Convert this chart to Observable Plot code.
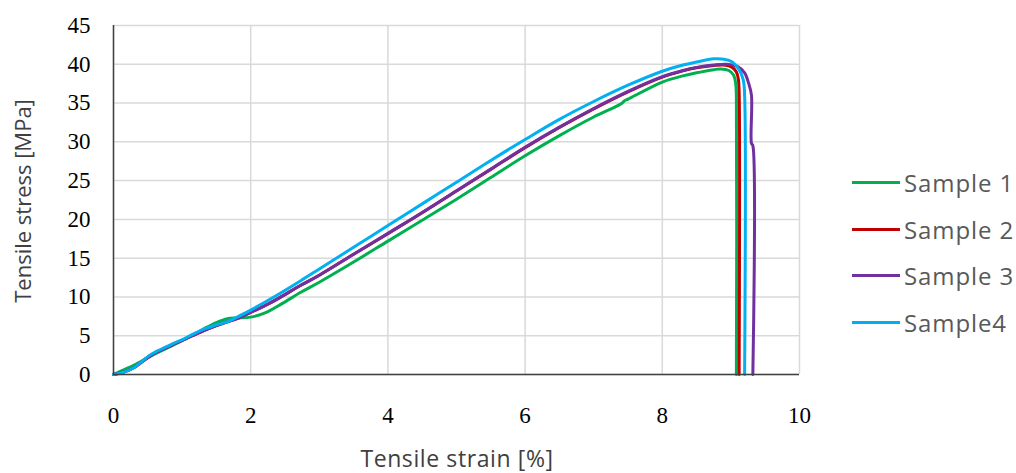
<!DOCTYPE html>
<html>
<head>
<meta charset="utf-8">
<script src="https://cdn.jsdelivr.net/npm/d3@7"></script>
<script src="https://cdn.jsdelivr.net/npm/@observablehq/plot@0.6"></script>
<style>
  html, body { margin: 0; padding: 0; background: #fff; }
  #wrap { position: relative; width: 1016px; height: 473px; overflow: hidden; }
  #wrap svg text { font-family: "Liberation Serif", "Times New Roman", serif !important; font-size: 23px !important; fill: #000; }
  #legend { position: absolute; left: 0; top: 0; font-family: "Open Sans", sans-serif; font-size: 24px; letter-spacing: 0.9px; color: #595959; }
  .item { position: absolute; left: 852px; height: 30px; display: flex; align-items: center; white-space: nowrap; }
  .sw { width: 48px; height: 3px; margin-right: 4px; }
  .title { position: absolute; font-family: "Open Sans", sans-serif; color: #404040; white-space: nowrap; line-height: 1; }
  #xtitle { left: 457px; top: 458px; font-size: 23px; letter-spacing: 0.6px; transform: translate(-50%, -50%); }
  #ytitle { left: 22px; top: 201px; font-size: 22px; transform: translate(-50%, -50%) rotate(-90deg); }
</style>
</head>
<body>
<div id="wrap">
  <div id="legend"></div>
  <div class="title" id="xtitle">Tensile strain [%]</div>
  <div class="title" id="ytitle">Tensile stress [MPa]</div>
</div>
<script>
const samples = ["Sample 1", "Sample 2", "Sample 3", "Sample4"];
const colors = ["#00b050", "#c00000", "#7030a0", "#00b0f0"];
const xTicks = [0, 2, 4, 6, 8, 10];
const yTicks = [0, 5, 10, 15, 20, 25, 30, 35, 40, 45];

const s1Strain = [0, 0.1, 0.3, 0.55, 0.8, 1.05, 1.3, 1.5, 1.66, 1.8, 2.0, 2.2, 2.45, 2.73, 3.0, 3.5, 4.0, 4.5, 5.0, 5.5, 6.0, 6.5, 7.0, 7.4, 7.45, 7.5, 8.0, 8.3, 8.5, 8.75, 8.85, 8.97, 9.04, 9.07, 9.08, 9.08];
const s1Stress = [0, 0.4, 1.2, 2.4, 3.5, 4.6, 5.8, 6.7, 7.2, 7.3, 7.4, 7.9, 9.1, 10.6, 11.9, 14.5, 17.2, 19.9, 22.6, 25.4, 28.2, 30.8, 33.2, 34.9, 35.3, 35.5, 37.7, 38.5, 38.9, 39.3, 39.4, 39.2, 38.6, 37.5, 35.5, 0];

const s2Strain = [0, 0.15, 0.3, 0.55, 0.8, 1.05, 1.3, 1.5, 1.66, 1.8, 2.0, 2.3, 2.73, 3.0, 3.5, 4.0, 4.5, 5.0, 5.5, 6.0, 6.5, 7.0, 7.5, 8.0, 8.3, 8.5, 8.75, 8.9, 9.02, 9.08, 9.11, 9.12, 9.12];
const s2Stress = [0, 0.3, 0.9, 2.5, 3.6, 4.6, 5.6, 6.3, 6.8, 7.2, 8.0, 9.3, 11.5, 12.8, 15.5, 18.15, 20.85, 23.65, 26.45, 29.25, 31.85, 34.25, 36.45, 38.35, 39.15, 39.55, 39.85, 39.9, 39.6, 39.0, 38.0, 36.5, 0];

const s3Strain = [0, 0.15, 0.3, 0.55, 0.8, 1.05, 1.3, 1.5, 1.66, 1.8, 2.0, 2.3, 2.73, 3.0, 3.5, 4.0, 4.5, 5.0, 5.5, 6.0, 6.5, 7.0, 7.5, 8.0, 8.3, 8.5, 8.75, 8.94, 9.1, 9.2, 9.26, 9.3, 9.3, 9.32, 9.32];
const s3Stress = [0, 0.3, 0.9, 2.5, 3.6, 4.6, 5.6, 6.3, 6.8, 7.2, 8.0, 9.3, 11.5, 12.8, 15.5, 18.2, 20.9, 23.7, 26.5, 29.3, 31.9, 34.3, 36.5, 38.4, 39.2, 39.6, 39.9, 40.0, 39.7, 38.9, 37.5, 36.0, 29.8, 29.5, 0];

const s4Strain = [0, 0.15, 0.3, 0.55, 0.8, 1.05, 1.3, 1.5, 1.66, 1.8, 2.0, 2.3, 2.73, 3.0, 3.5, 4.0, 4.5, 5.0, 5.5, 6.0, 6.5, 7.0, 7.5, 8.0, 8.3, 8.5, 8.75, 8.9, 9.02, 9.12, 9.18, 9.2, 9.2];
const s4Stress = [0, 0.3, 0.9, 2.6, 3.7, 4.7, 5.8, 6.4, 6.8, 7.4, 8.3, 9.8, 12.1, 13.6, 16.4, 19.2, 22.0, 24.8, 27.6, 30.3, 32.9, 35.2, 37.3, 39.1, 39.9, 40.3, 40.7, 40.65, 40.3, 39.3, 38.0, 36.0, 0];

const seriesStrain = [s1Strain, s2Strain, s3Strain, s4Strain];
const seriesStress = [s1Stress, s2Stress, s3Stress, s4Stress];

const data = samples.flatMap((name, i) =>
  seriesStrain[i].map((x, j) => ({ sample: name, strain: x, stress: seriesStress[i][j] }))
);

const chart = Plot.plot({
  width: 1016,
  height: 473,
  marginLeft: 113,
  marginRight: 217,
  marginTop: 25,
  marginBottom: 99,
  style: { background: "#fff", overflow: "visible" },
  x: { domain: [0, 10], ticks: xTicks, label: null, tickSize: 0, tickPadding: 32 },
  y: { domain: [0, 45], ticks: yTicks, label: null, tickSize: 0, tickPadding: 23 },
  color: { domain: samples, range: colors },
  marks: [
    Plot.gridX(xTicks, { stroke: "#d9d9d9", strokeOpacity: 1, strokeWidth: 1.5 }),
    Plot.gridY(yTicks, { stroke: "#d9d9d9", strokeOpacity: 1, strokeWidth: 1.5 }),
    Plot.line(data, { x: "strain", y: "stress", z: "sample", stroke: "sample", strokeWidth: 3, strokeLinejoin: "round", curve: "catmull-rom" }),
    Plot.ruleX([0], { stroke: "#404040", strokeWidth: 1.5 }),
    Plot.ruleY([0], { stroke: "#404040", strokeWidth: 1.5 }),
    Plot.axisX({ ticks: xTicks, tickSize: 0, tickPadding: 32, label: null, fontSize: 23, fill: "#000" }),
    Plot.axisY({ ticks: yTicks, tickSize: 0, tickPadding: 23, label: null, fontSize: 23, fill: "#000" })
  ]
});

document.getElementById("wrap").prepend(chart);

const legend = document.getElementById("legend");
const legendY = [182, 229, 275, 322];
samples.forEach((name, i) => {
  const item = document.createElement("div");
  item.className = "item";
  item.style.top = (legendY[i] - 15) + "px";
  const sw = document.createElement("div");
  sw.className = "sw";
  sw.style.background = colors[i];
  const t = document.createElement("span");
  t.textContent = name;
  item.appendChild(sw);
  item.appendChild(t);
  legend.appendChild(item);
});
</script>
</body>
</html>
